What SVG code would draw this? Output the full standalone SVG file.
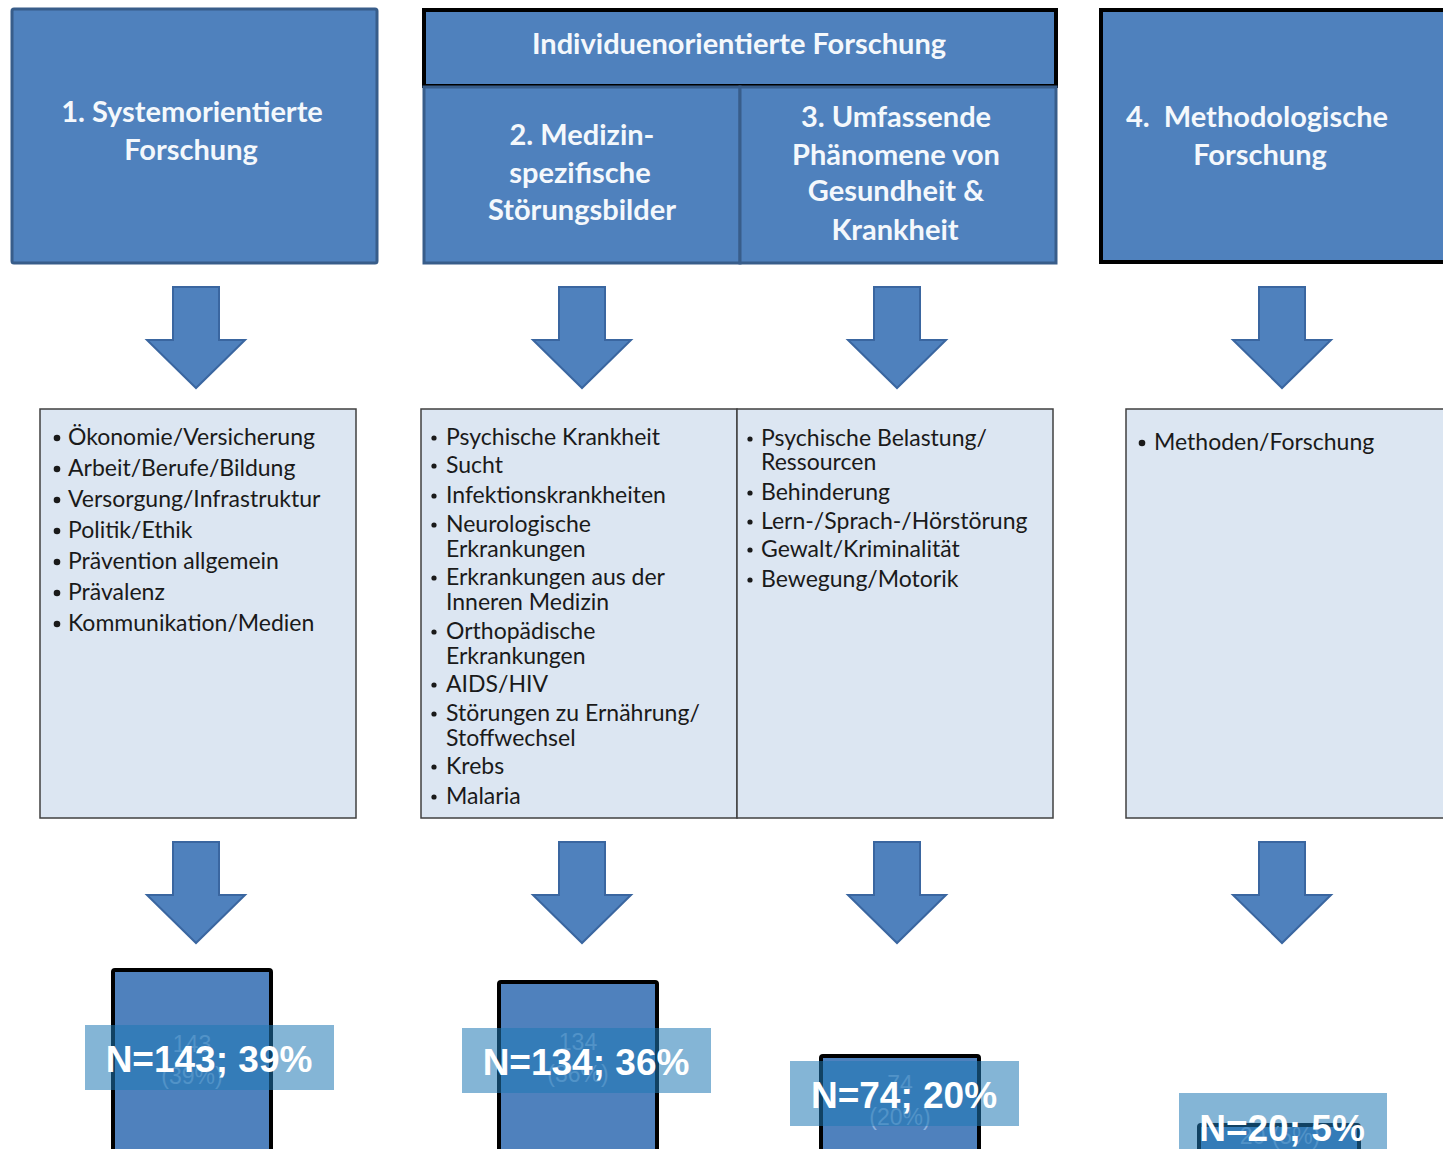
<svg xmlns="http://www.w3.org/2000/svg" width="1443" height="1149" viewBox="0 0 1443 1149">
<style>
.hdr{fill:#4f81bd;stroke:#385d8a;stroke-width:3}
.hdrk{fill:#4f81bd;stroke:#000;stroke-width:4}
.ht{font-family:Lato,"Open Sans",sans-serif;font-weight:bold;font-size:29px;fill:#f4f8fc;text-anchor:middle}
.hts{text-anchor:start}
.lst{fill:#dce6f2;stroke:#404040;stroke-width:1.5}
.li{font-family:Lato,"Open Sans",sans-serif;font-size:23px;fill:#1a1a1a}
.bul{fill:#1a1a1a}
.arr{fill:#4f81bd;stroke:#3a66a0;stroke-width:2;stroke-linejoin:miter}
.bar{fill:#4f81bd;stroke:#000;stroke-width:4}
.faint{font-family:"Liberation Sans",Arial,sans-serif;font-size:23px;fill:#8fb3df;text-anchor:middle}
.ov{fill:#1f78b4;fill-opacity:0.55}
.nt{font-family:"Liberation Sans",Arial,sans-serif;font-weight:bold;font-size:37px;fill:#fff;text-anchor:middle}
</style>
<defs>
<path id="arrow" d="M-23,0 H23 V53 H49 L0,101 L-49,53 H-23 Z"/>
</defs>
<rect width="1443" height="1149" fill="#fff"/>

<g id="head1">
<rect class="hdr" x="12" y="9" width="365" height="254" rx="2"/>
<text class="ht" x="192" y="122">1. Systemorientierte</text>
<text class="ht" x="191" y="160">Forschung</text>
</g>

<g id="head-indiv">
<rect class="hdrk" x="424" y="10" width="632" height="76"/>
<text class="ht" x="739" y="54" font-size="27">Individuenorientierte Forschung</text>
</g>
<g id="head2">
<rect class="hdr" x="424" y="87" width="316" height="176"/>
<text class="ht" x="582" y="145">2. Medizin-</text>
<text class="ht" x="580" y="183">spezifische</text>
<text class="ht" x="582" y="220">Störungsbilder</text>
</g>
<g id="head3">
<rect class="hdr" x="740" y="87" width="316" height="176"/>
<text class="ht" x="896" y="127">3. Umfassende</text>
<text class="ht" x="896" y="165">Phänomene von</text>
<text class="ht" x="896" y="201">Gesundheit &amp;</text>
<text class="ht" x="895" y="240">Krankheit</text>
</g>
<g id="head4">
<rect class="hdrk" x="1101" y="10" width="350" height="252"/>
<text class="ht hts" x="1126" y="127" xml:space="preserve">4.  Methodologische</text>
<text class="ht" x="1260" y="165">Forschung</text>
</g>

<g id="connectors">
<use href="#arrow" class="arr" x="196" y="287"/>
<use href="#arrow" class="arr" x="582" y="287"/>
<use href="#arrow" class="arr" x="897" y="287"/>
<use href="#arrow" class="arr" x="1282" y="287"/>
<use href="#arrow" class="arr" x="196" y="842"/>
<use href="#arrow" class="arr" x="582" y="842"/>
<use href="#arrow" class="arr" x="897" y="842"/>
<use href="#arrow" class="arr" x="1282" y="842"/>
</g>

<g id="list1">
<rect class="lst" x="40" y="409" width="316" height="409"/>
<g class="bul">
<circle cx="57" cy="438" r="3.3"/><circle cx="57" cy="469" r="3.3"/><circle cx="57" cy="500" r="3.3"/><circle cx="57" cy="531" r="3.3"/><circle cx="57" cy="562" r="3.3"/><circle cx="57" cy="593" r="3.3"/><circle cx="57" cy="624" r="3.3"/>
</g>
<text class="li" x="68" y="445">Ökonomie/Versicherung</text>
<text class="li" x="68" y="476">Arbeit/Berufe/Bildung</text>
<text class="li" x="68" y="507">Versorgung/Infrastruktur</text>
<text class="li" x="68" y="538">Politik/Ethik</text>
<text class="li" x="68" y="569">Prävention allgemein</text>
<text class="li" x="68" y="600">Prävalenz</text>
<text class="li" x="68" y="631">Kommunikation/Medien</text>
</g>

<g id="list2">
<rect class="lst" x="421" y="409" width="316" height="409"/>
<g class="bul">
<circle cx="434" cy="438" r="2.6"/><circle cx="434" cy="466" r="2.6"/><circle cx="434" cy="496" r="2.6"/><circle cx="434" cy="525" r="2.6"/><circle cx="434" cy="578" r="2.6"/><circle cx="434" cy="632" r="2.6"/><circle cx="434" cy="685" r="2.6"/><circle cx="434" cy="714" r="2.6"/><circle cx="434" cy="767" r="2.6"/><circle cx="434" cy="797" r="2.6"/>
</g>
<text class="li" x="446" y="445">Psychische Krankheit</text>
<text class="li" x="446" y="473">Sucht</text>
<text class="li" x="446" y="503">Infektionskrankheiten</text>
<text class="li" x="446" y="532">Neurologische</text>
<text class="li" x="446" y="557">Erkrankungen</text>
<text class="li" x="446" y="585">Erkrankungen aus der</text>
<text class="li" x="446" y="610">Inneren Medizin</text>
<text class="li" x="446" y="639">Orthopädische</text>
<text class="li" x="446" y="664">Erkrankungen</text>
<text class="li" x="446" y="692">AIDS/HIV</text>
<text class="li" x="446" y="721">Störungen zu Ernährung/</text>
<text class="li" x="446" y="746">Stoffwechsel</text>
<text class="li" x="446" y="774">Krebs</text>
<text class="li" x="446" y="804">Malaria</text>
</g>

<g id="list3">
<rect class="lst" x="737" y="409" width="316" height="409"/>
<g class="bul">
<circle cx="750" cy="439" r="2.6"/><circle cx="750" cy="493" r="2.6"/><circle cx="750" cy="522" r="2.6"/><circle cx="750" cy="550" r="2.6"/><circle cx="750" cy="580" r="2.6"/>
</g>
<text class="li" x="761" y="446">Psychische Belastung/</text>
<text class="li" x="761" y="470">Ressourcen</text>
<text class="li" x="761" y="500">Behinderung</text>
<text class="li" x="761" y="529">Lern-/Sprach-/Hörstörung</text>
<text class="li" x="761" y="557">Gewalt/Kriminalität</text>
<text class="li" x="761" y="587">Bewegung/Motorik</text>
</g>

<g id="list4">
<rect class="lst" x="1126" y="409" width="330" height="409"/>
<circle class="bul" cx="1142" cy="443" r="3.3"/>
<text class="li" x="1154" y="450">Methoden/Forschung</text>
</g>

<g id="result1">
<rect class="bar" x="113" y="970" width="158" height="200" rx="2"/>
<text class="faint" x="192" y="1052">143</text>
<text class="faint" x="192" y="1084">(39%)</text>
<rect class="ov" x="85" y="1025" width="249" height="65"/>
<text class="nt" x="209" y="1072">N=143; 39%</text>
</g>
<g id="result2">
<rect class="bar" x="499" y="982" width="158" height="190" rx="2"/>
<text class="faint" x="578" y="1050">134</text>
<text class="faint" x="578" y="1082">(36%)</text>
<rect class="ov" x="462" y="1028" width="249" height="65"/>
<text class="nt" x="586" y="1075">N=134; 36%</text>
</g>
<g id="result3">
<rect class="bar" x="821" y="1056" width="158" height="110" rx="2"/>
<text class="faint" x="900" y="1092">74</text>
<text class="faint" x="900" y="1125">(20%)</text>
<rect class="ov" x="790" y="1061" width="229" height="65"/>
<text class="nt" x="904" y="1108">N=74; 20%</text>
</g>
<g id="result4">
<rect class="bar" x="1199" y="1125" width="160" height="40" rx="2"/>
<text class="faint" x="1280" y="1144">20 (5%)</text>
<rect class="ov" x="1179" y="1093" width="208" height="60"/>
<text class="nt" x="1282" y="1141">N=20; 5%</text>
</g>
</svg>
